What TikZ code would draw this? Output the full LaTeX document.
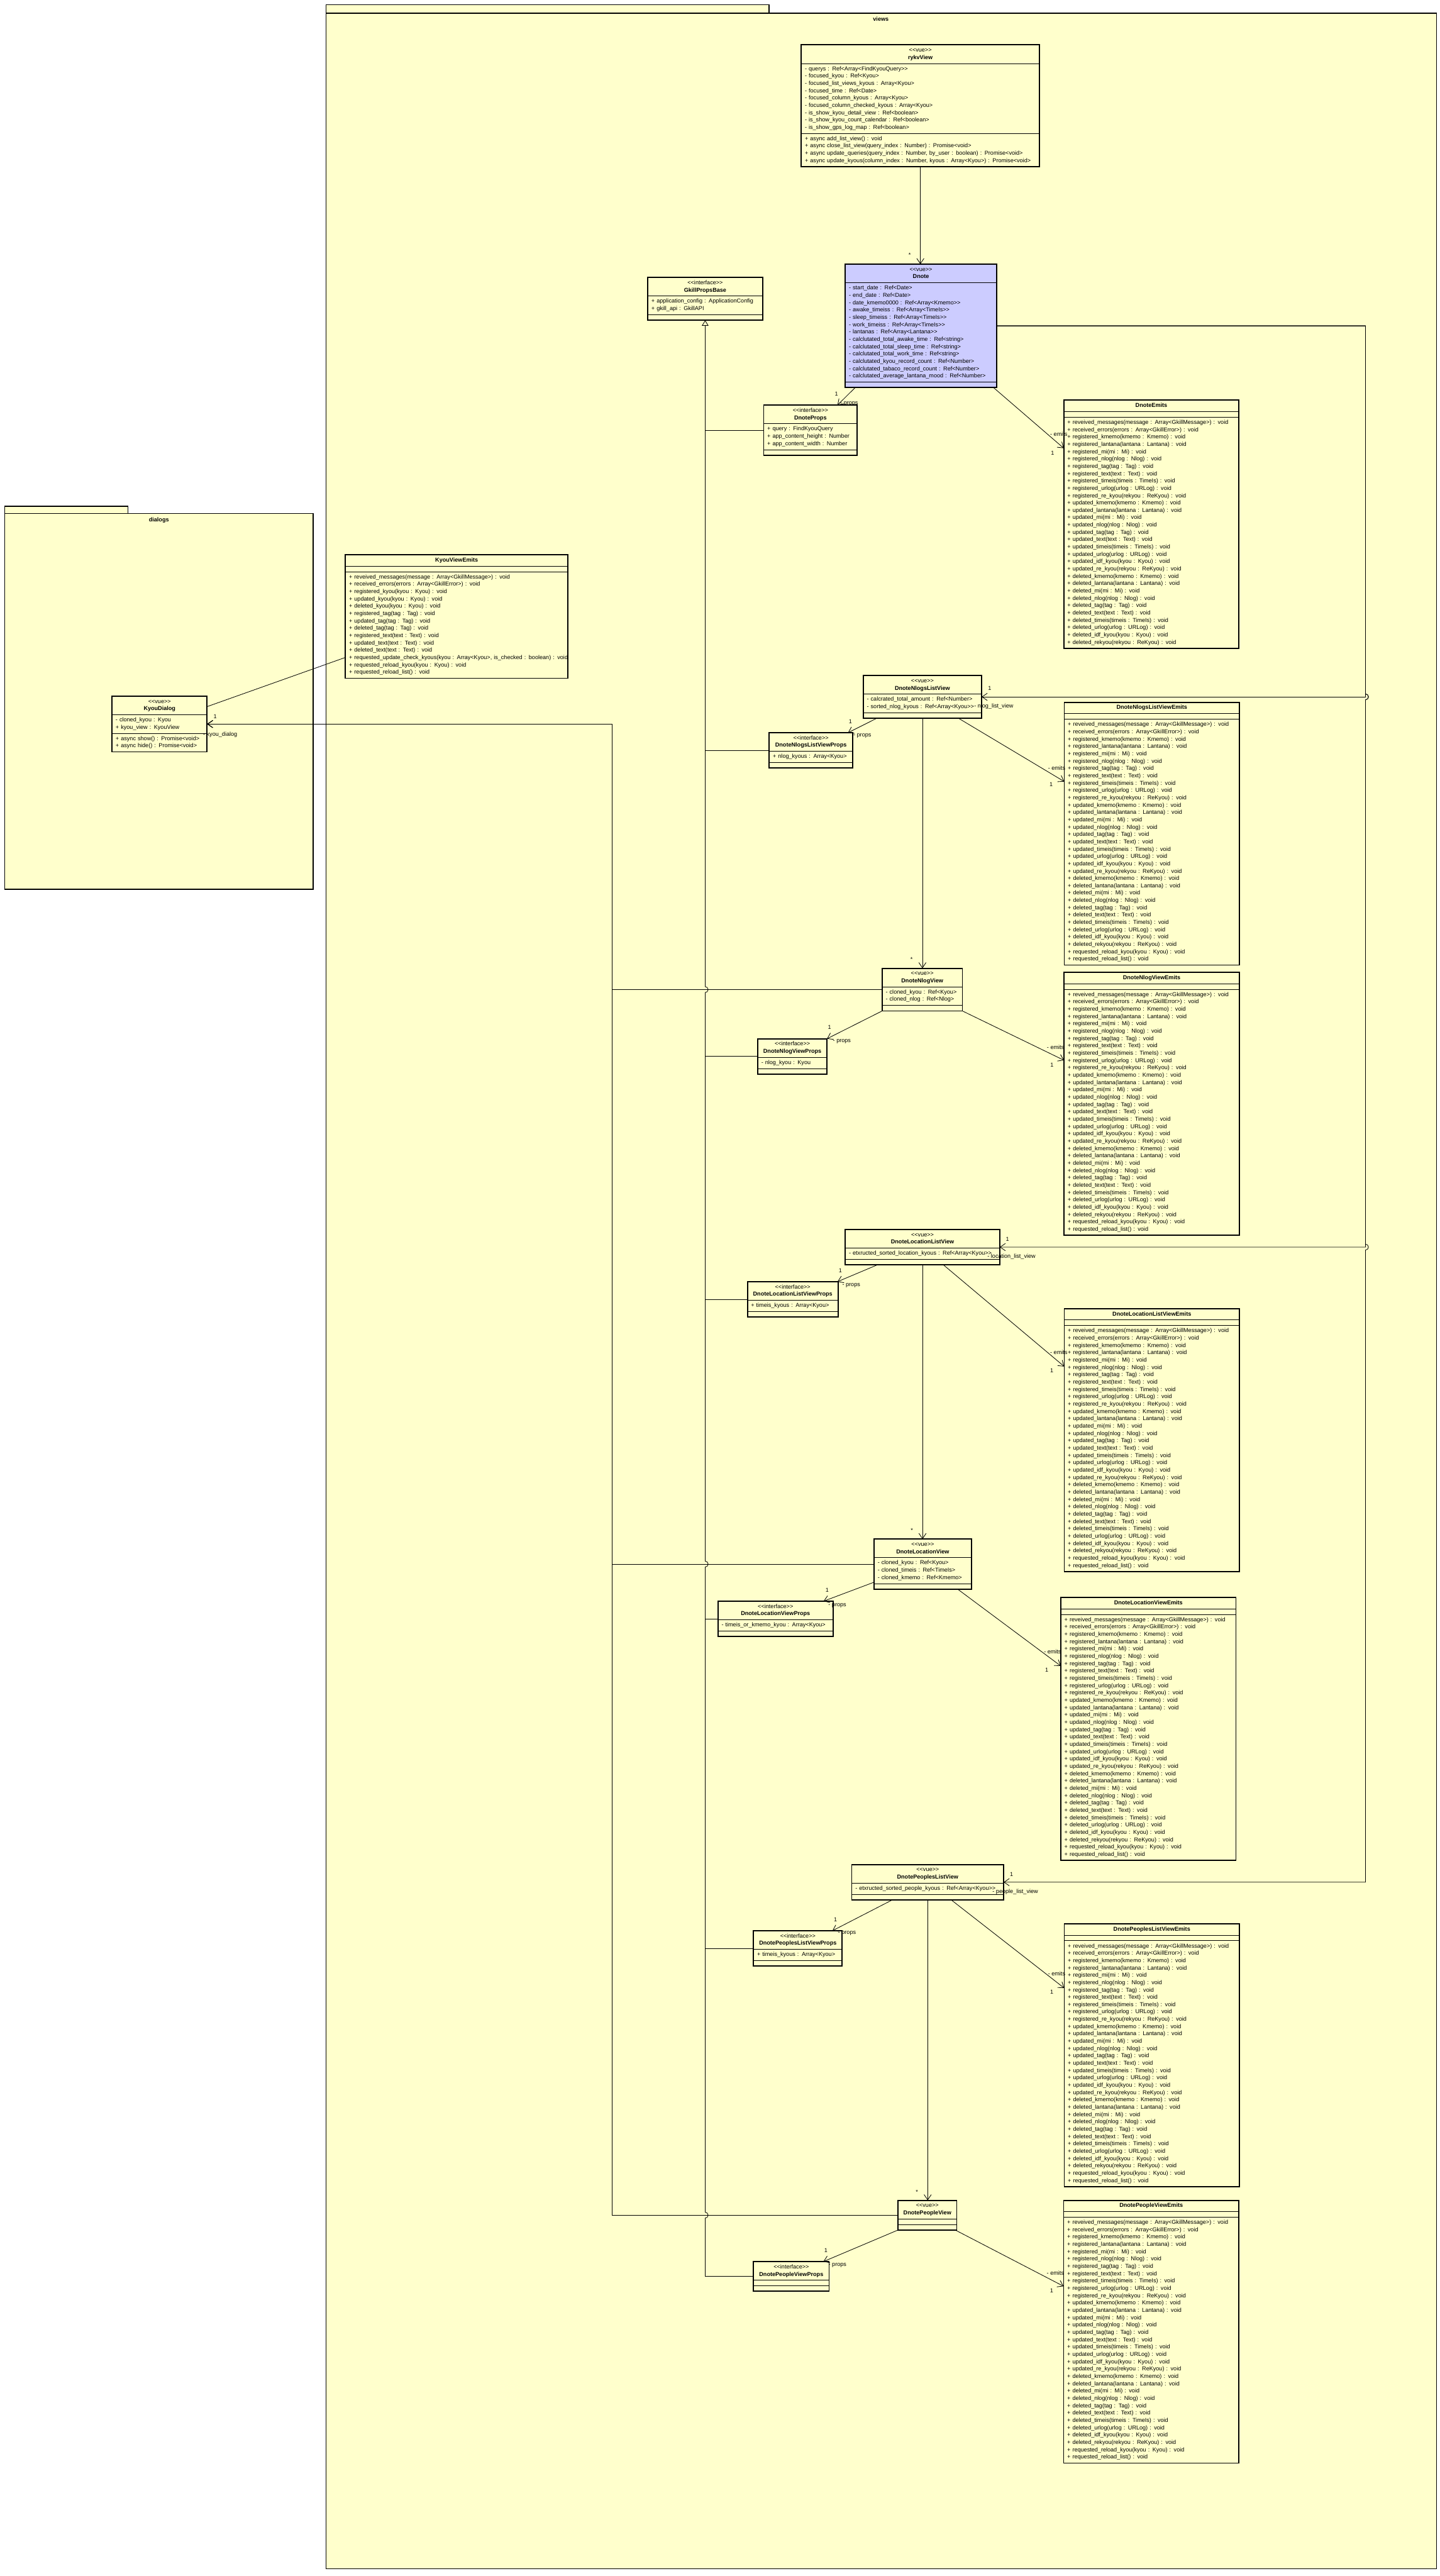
\documentclass[tikz,border=0pt]{standalone}
\usepackage{fontspec}
\setmainfont{Liberation Sans}[Ligatures=TeXOff]
\usepackage{tikz}
\usetikzlibrary{arrows.meta, positioning, calc, shapes.multipart}

\definecolor{umlyellow}{RGB}{255,255,204}
\definecolor{umlblue}{RGB}{204,204,255}

\newcommand{\umlfont}{\fontsize{9.9}{12.7}\selectfont}
\newcommand{\rows}[1]{\begin{tabular}{@{}l@{}}#1\end{tabular}}
\newcommand{\headrows}[1]{\makebox[\linewidth][c]{\begin{tabular}{@{}c@{}}#1\end{tabular}}}
\newcommand{\emptypart}{\rule{0pt}{3pt}}

% emit list shared by the Dnote views
\newcommand{\emitsbase}{%
+ reveived\_messages(message : Array<GkillMessage>) : void\\
+ received\_errors(errors : Array<GkillError>) : void\\
+ registered\_kmemo(kmemo : Kmemo) : void\\
+ registered\_lantana(lantana : Lantana) : void\\
+ registered\_mi(mi : Mi) : void\\
+ registered\_nlog(nlog : Nlog) : void\\
+ registered\_tag(tag : Tag) : void\\
+ registered\_text(text : Text) : void\\
+ registered\_timeis(timeis : TimeIs) : void\\
+ registered\_urlog(urlog : URLog) : void\\
+ registered\_re\_kyou(rekyou : ReKyou) : void\\
+ updated\_kmemo(kmemo : Kmemo) : void\\
+ updated\_lantana(lantana : Lantana) : void\\
+ updated\_mi(mi : Mi) : void\\
+ updated\_nlog(nlog : Nlog) : void\\
+ updated\_tag(tag : Tag) : void\\
+ updated\_text(text : Text) : void\\
+ updated\_timeis(timeis : TimeIs) : void\\
+ updated\_urlog(urlog : URLog) : void\\
+ updated\_idf\_kyou(kyou : Kyou) : void\\
+ updated\_re\_kyou(rekyou : ReKyou) : void\\
+ deleted\_kmemo(kmemo : Kmemo) : void\\
+ deleted\_lantana(lantana : Lantana) : void\\
+ deleted\_mi(mi : Mi) : void\\
+ deleted\_nlog(nlog : Nlog) : void\\
+ deleted\_tag(tag : Tag) : void\\
+ deleted\_text(text : Text) : void\\
+ deleted\_timeis(timeis : TimeIs) : void\\
+ deleted\_urlog(urlog : URLog) : void\\
+ deleted\_idf\_kyou(kyou : Kyou) : void\\
+ deleted\_rekyou(rekyou : ReKyou) : void}
\newcommand{\emitsreq}{\\
+ requested\_reload\_kyou(kyou : Kyou) : void\\
+ requested\_reload\_list() : void}

\begin{document}
\begin{tikzpicture}[
		x=1mm, y=-1mm,
		umlclass/.style={rectangle split, rectangle split parts=3, draw=black, line width=0.7pt,
			fill=umlyellow, anchor=north west, inner xsep=2.2mm, inner ysep=3pt, outer sep=0pt,
			align=left, font=\umlfont},
		boxw/.style={text width=#1mm},
		classborder/.style={draw=black, line width=2pt},
		pkg/.style={draw=black, line width=1.4pt, fill=umlyellow},
		pkglabel/.style={font=\umlfont\bfseries, inner sep=0pt},
		assoc/.style={draw=black, line width=0.9pt, -{Straight Barb[length=3.2mm, width=4.4mm]}},
		link/.style={draw=black, line width=0.9pt},
		inherit/.style={draw=black, line width=0.9pt, {Triangle[open, length=3.4mm, width=4mm]}-},
		role/.style={font=\umlfont, inner sep=0pt}
		]
		\fill[white] (0,0) rectangle (876,1567.3);
		\useasboundingbox (0,0) rectangle (876,1567.3);

		% --- Packages ---
		\draw[pkg] (198.5,3) rectangle (468,8);
		\draw[pkg] (198.5,8) rectangle (874,1563);
		\node[pkglabel] (viewslabel) at (536,11.6) {views};
		\draw[pkg] (3,308) rectangle (78,312.4);
		\draw[pkg] (3,312.4) rectangle (190.5,541);
		\node[pkglabel] (dialogslabel) at (96.7,316.6) {dialogs};

		% --- Top: rykvView, Dnote and its props/emits ---
		\node[umlclass, boxw=140.5] (rykvview) at (487.6,27.3)
		{\headrows{<<vue>>\\\textbf{rykvView}}
			\nodepart{two}\rows{- querys : Ref<Array<FindKyouQuery>>\\
				- focused\_kyou : Ref<Kyou>\\
				- focused\_list\_views\_kyous : Array<Kyou>\\
				- focused\_time : Ref<Date>\\
				- focused\_column\_kyous : Array<Kyou>\\
				- focused\_column\_checked\_kyous : Array<Kyou>\\
				- is\_show\_kyou\_detail\_view : Ref<boolean>\\
				- is\_show\_kyou\_count\_calendar : Ref<boolean>\\
				- is\_show\_gps\_log\_map : Ref<boolean>}
			\nodepart{three}\rows{+ async add\_list\_view() : void\\
				+ async close\_list\_view(query\_index : Number) : Promise<void>\\
				+ async update\_queries(query\_index : Number, by\_user : boolean) : Promise<void>\\
				+ async update\_kyous(column\_index : Number, kyous : Array<Kyou>) : Promise<void>}};

		\node[umlclass, fill=umlblue, boxw=87.6] (dnote) at (514.4,160.7)
		{\headrows{<<vue>>\\\textbf{Dnote}}
			\nodepart{two}\rows{- start\_date : Ref<Date>\\
				- end\_date : Ref<Date>\\
				- date\_kmemo0000 : Ref<Array<Kmemo>>\\
				- awake\_timeiss : Ref<Array<TimeIs>>\\
				- sleep\_timeiss : Ref<Array<TimeIs>>\\
				- work\_timeiss : Ref<Array<TimeIs>>\\
				- lantanas : Ref<Array<Lantana>>\\
				- calclutated\_total\_awake\_time : Ref<string>\\
				- calclutated\_total\_sleep\_time : Ref<string>\\
				- calclutated\_total\_work\_time : Ref<string>\\
				- calclutated\_kyou\_record\_count : Ref<Number>\\
				- calclutated\_tabaco\_record\_count : Ref<Number>\\
				- calclutated\_average\_lantana\_mood : Ref<Number>}
			\nodepart{three}\emptypart};

		\node[umlclass, boxw=65.4] (propsbase) at (394.2,168.8)
		{\headrows{<<interface>>\\\textbf{GkillPropsBase}}
			\nodepart{two}\rows{+ application\_config : ApplicationConfig\\
				+ gkill\_api : GkillAPI}
			\nodepart{three}\emptypart};

		\node[umlclass, boxw=52.5] (dnoteprops) at (464.7,246.5)
		{\headrows{<<interface>>\\\textbf{DnoteProps}}
			\nodepart{two}\rows{+ query : FindKyouQuery\\
				+ app\_content\_height : Number\\
				+ app\_content\_width : Number}
			\nodepart{three}\emptypart};

		\node[umlclass, boxw=102.2] (dnoteemits) at (647.3,243.5)
		{\headrows{\textbf{DnoteEmits}}
			\nodepart{two}\emptypart
			\nodepart{three}\rows{\emitsbase}};

		% --- dialogs ---
		\node[umlclass, boxw=131] (kyouviewemits) at (210.2,337.6)
		{\headrows{\textbf{KyouViewEmits}}
			\nodepart{two}\emptypart
			\nodepart{three}\rows{+ reveived\_messages(message : Array<GkillMessage>) : void\\
				+ received\_errors(errors : Array<GkillError>) : void\\
				+ registered\_kyou(kyou : Kyou) : void\\
				+ updated\_kyou(kyou : Kyou) : void\\
				+ deleted\_kyou(kyou : Kyou) : void\\
				+ registered\_tag(tag : Tag) : void\\
				+ updated\_tag(tag : Tag) : void\\
				+ deleted\_tag(tag : Tag) : void\\
				+ registered\_text(text : Text) : void\\
				+ updated\_text(text : Text) : void\\
				+ deleted\_text(text : Text) : void\\
				+ requested\_update\_check\_kyous(kyou : Array<Kyou>, is\_checked : boolean) : void\\
				+ requested\_reload\_kyou(kyou : Kyou) : void\\
				+ requested\_reload\_list() : void}};

		\node[umlclass, boxw=53.4] (kyoudialog) at (68.2,423.6)
		{\headrows{<<vue>>\\\textbf{KyouDialog}}
			\nodepart{two}\rows{- cloned\_kyou : Kyou\\
				+ kyou\_view : KyouView}
			\nodepart{three}\rows{+ async show() : Promise<void>\\
				+ async hide() : Promise<void>}};

		% --- Nlogs ---
		\node[umlclass, boxw=67.6] (nlogslist) at (525.3,411)
		{\headrows{<<vue>>\\\textbf{DnoteNlogsListView}}
			\nodepart{two}\rows{- calcrated\_total\_amount : Ref<Number>\\
				- sorted\_nlog\_kyous : Ref<Array<Kyou>>}
			\nodepart{three}\emptypart};
		\node[umlclass, boxw=46.3] (nlogslistprops) at (468.1,445.8)
		{\headrows{<<interface>>\\\textbf{DnoteNlogsListViewProps}}
			\nodepart{two}\rows{+ nlog\_kyous : Array<Kyou>}
			\nodepart{three}\emptypart};
		\node[umlclass, boxw=102.2] (nlogslistemits) at (647.6,427.3)
		{\headrows{\textbf{DnoteNlogsListViewEmits}}
			\nodepart{two}\emptypart
			\nodepart{three}\rows{\emitsbase\emitsreq}};

		\node[umlclass, boxw=44.4] (nlogview) at (536.8,589.1)
		{\headrows{<<vue>>\\\textbf{DnoteNlogView}}
			\nodepart{two}\rows{- cloned\_kyou : Ref<Kyou>\\
				- cloned\_nlog : Ref<Nlog>}
			\nodepart{three}\emptypart};
		\node[umlclass, boxw=37.7] (nlogviewprops) at (461.1,632)
		{\headrows{<<interface>>\\\textbf{DnoteNlogViewProps}}
			\nodepart{two}\rows{- nlog\_kyou : Kyou}
			\nodepart{three}\emptypart};
		\node[umlclass, boxw=102.2] (nlogviewemits) at (647.5,591.6)
		{\headrows{\textbf{DnoteNlogViewEmits}}
			\nodepart{two}\emptypart
			\nodepart{three}\rows{\emitsbase\emitsreq}};

		% --- Location ---
		\node[umlclass, boxw=89.5] (loclist) at (514.4,748)
		{\headrows{<<vue>>\\\textbf{DnoteLocationListView}}
			\nodepart{two}\rows{- etxructed\_sorted\_location\_kyous : Ref<Array<Kyou>>}
			\nodepart{three}\emptypart};
		\node[umlclass, boxw=50.8] (loclistprops) at (454.8,779.8)
		{\headrows{<<interface>>\\\textbf{DnoteLocationListViewProps}}
			\nodepart{two}\rows{+ timeis\_kyous : Array<Kyou>}
			\nodepart{three}\emptypart};
		\node[umlclass, boxw=102.2] (loclistemits) at (647.6,796.2)
		{\headrows{\textbf{DnoteLocationListViewEmits}}
			\nodepart{two}\emptypart
			\nodepart{three}\rows{\emitsbase\emitsreq}};

		\node[umlclass, boxw=54.8] (locview) at (531.9,936.4)
		{\headrows{<<vue>>\\\textbf{DnoteLocationView}}
			\nodepart{two}\rows{- cloned\_kyou : Ref<Kyou>\\
				- cloned\_timeis : Ref<TimeIs>\\
				- cloned\_kmemo : Ref<Kmemo>}
			\nodepart{three}\emptypart};
		\node[umlclass, boxw=65.6] (locviewprops) at (436.9,974.2)
		{\headrows{<<interface>>\\\textbf{DnoteLocationViewProps}}
			\nodepart{two}\rows{- timeis\_or\_kmemo\_kyou : Array<Kyou>}
			\nodepart{three}\emptypart};
		\node[umlclass, boxw=102.2] (locviewemits) at (645.5,972)
		{\headrows{\textbf{DnoteLocationViewEmits}}
			\nodepart{two}\emptypart
			\nodepart{three}\rows{\emitsbase\emitsreq}};

		% --- Peoples ---
		\node[umlclass, boxw=88] (peopleslist) at (518.3,1134.4)
		{\headrows{<<vue>>\\\textbf{DnotePeoplesListView}}
			\nodepart{two}\rows{- etxructed\_sorted\_people\_kyous : Ref<Array<Kyou>>}
			\nodepart{three}\emptypart};
		\node[umlclass, boxw=49.6] (peopleslistprops) at (458.5,1174.7)
		{\headrows{<<interface>>\\\textbf{DnotePeoplesListViewProps}}
			\nodepart{two}\rows{+ timeis\_kyous : Array<Kyou>}
			\nodepart{three}\emptypart};
		\node[umlclass, boxw=102.2] (peopleslistemits) at (647.6,1170.5)
		{\headrows{\textbf{DnotePeoplesListViewEmits}}
			\nodepart{two}\emptypart
			\nodepart{three}\rows{\emitsbase\emitsreq}};

		\node[umlclass, boxw=31.4] (peopleview) at (546.4,1338.7)
		{\headrows{<<vue>>\\\textbf{DnotePeopleView}}
			\nodepart{two}\emptypart
			\nodepart{three}\emptypart};
		\node[umlclass, boxw=41.6] (peopleviewprops) at (458.5,1376)
		{\headrows{<<interface>>\\\textbf{DnotePeopleViewProps}}
			\nodepart{two}\emptypart
			\nodepart{three}\emptypart};
		\node[umlclass, boxw=102.2] (peopleviewemits) at (647.2,1338.7)
		{\headrows{\textbf{DnotePeopleViewEmits}}
			\nodepart{two}\emptypart
			\nodepart{three}\rows{\emitsbase\emitsreq}};

		% thick outer frames
		\foreach \c in {rykvview, dnote, propsbase, dnoteprops, dnoteemits, kyouviewemits, kyoudialog,
			nlogslist, nlogslistprops, nlogslistemits, nlogview, nlogviewprops, nlogviewemits,
			loclist, loclistprops, loclistemits, locview, locviewprops, locviewemits,
			peopleslist, peopleslistprops, peopleslistemits, peopleview, peopleviewprops, peopleviewemits}
		\draw[classborder] (\c.north west) rectangle (\c.south east);

		% --- Connectors ---
		\coordinate (rbus) at (830.9,198.3);
		\coordinate (lbus) at (372.5,441);

		\draw[assoc] (rykvview.south) -- (rykvview.south |- dnote.north);
		\draw[assoc] ([xshift=6mm]dnote.south west) -- ([xshift=-12mm]dnoteprops.north east);
		\draw[assoc] ([xshift=-1.9mm]dnote.south east) -- ([yshift=-29.2mm]dnoteemits.north west);

		% Dnote -> list views (right bus)
		\draw[assoc] (dnote.east) -- (dnote.east -| rbus) |- (nlogslist.east);
		\draw[assoc] (dnote.east) -- (dnote.east -| rbus)
			-- ([yshift=1.8mm]rbus |- nlogslist.east) arc[start angle=90, end angle=-90, radius=1.8mm]
			|- (loclist.east);
		\draw[assoc] (dnote.east) -- (dnote.east -| rbus)
			-- ([yshift=1.8mm]rbus |- nlogslist.east) arc[start angle=90, end angle=-90, radius=1.8mm]
			-- ([yshift=1.8mm]rbus |- loclist.east) arc[start angle=90, end angle=-90, radius=1.8mm]
			|- (peopleslist.east);

		% views -> KyouDialog (left bus)
		\draw[assoc] (nlogview.west) -| (lbus |- kyoudialog.east) -- (kyoudialog.east);
		\draw[assoc] (locview.west) -| (lbus |- kyoudialog.east) -- (kyoudialog.east);
		\draw[assoc] (peopleview.west) -| (lbus |- kyoudialog.east) -- (kyoudialog.east);
		\draw[link] ([yshift=10.6mm]kyoudialog.east) -- ([yshift=-24.85mm]kyouviewemits.west);

		% generalization trunk
		\draw[inherit] (propsbase.south)
			-- ([yshift=1.8mm]propsbase.south |- nlogview.west) arc[start angle=90, end angle=-90, radius=1.8mm]
			-- ([yshift=1.8mm]propsbase.south |- locview.west) arc[start angle=90, end angle=-90, radius=1.8mm]
			-- ([yshift=1.8mm]propsbase.south |- peopleview.west) arc[start angle=90, end angle=-90, radius=1.8mm]
			-- (propsbase.south |- peopleviewprops.west);
		\foreach \p in {dnoteprops, nlogslistprops, nlogviewprops, loclistprops, locviewprops, peopleslistprops, peopleviewprops}
		\draw[link] (\p.west) -- (propsbase.south |- \p.west);

		% list view -> view
		\draw[assoc] (nlogslist.south) -- (nlogslist.south |- nlogview.north);
		\draw[assoc] (loclist.south) -- (loclist.south |- locview.north);
		\draw[assoc] (peopleslist.south) -- (peopleslist.south |- peopleview.north);

		% props
		\draw[assoc] ([xshift=8.3mm]nlogslist.south west) -- ([xshift=-2.8mm]nlogslistprops.north east);
		\draw[assoc] (nlogview.south west) -- (nlogviewprops.north east);
		\draw[assoc] ([xshift=19.6mm]loclist.south west) -- ([xshift=-0.4mm]loclistprops.north east);
		\draw[assoc] ([yshift=-11mm]locview.west) -- ([xshift=-5.8mm]locviewprops.north east);
		\draw[assoc] ([xshift=24.7mm]peopleslist.south west) -- ([xshift=-6mm]peopleslistprops.north east);
		\draw[assoc] (peopleview.south west) -- ([xshift=-3.5mm]peopleviewprops.north east);

		% emits
		\draw[assoc] ([xshift=-14.1mm]nlogslist.south east) -- ([yshift=-48.2mm]nlogslistemits.north west);
		\draw[assoc] (nlogview.south east) -- ([yshift=-53.5mm]nlogviewemits.north west);
		\draw[assoc] ([xshift=-34.3mm]loclist.south east) -- ([yshift=-35.2mm]loclistemits.north west);
		\draw[assoc] ([xshift=-8.4mm]locview.south east) -- ([yshift=-41.6mm]locviewemits.north west);
		\draw[assoc] ([xshift=-31.9mm]peopleslist.south east) -- ([yshift=-39.1mm]peopleslistemits.north west);
		\draw[assoc] ([xshift=-0.9mm]peopleview.south east) -- ([yshift=-52.3mm]peopleviewemits.north west);

		% --- role names and multiplicities ---
		\node[role] (m-rykv) at (553.5,155) {*};
		\node[role] (m-dnoteprops) at (509,239.7) {1};
		\node[role] (r-dnoteprops) at (516.7,245.5) {- props};
		\node[role] (r-dnoteemits) at (644.3,264.3) {- emits};
		\node[role] (m-dnoteemits) at (640.5,275.5) {1};
		\node[role] (m-kyoudialog) at (130.9,435.9) {1};
		\node[role] (r-kyoudialog) at (134,447) {- kyou\_dialog};

		\node[role] (m-nlogslist) at (602.2,418.9) {1};
		\node[role] (r-nlogslist) at (604.7,429.7) {- nlog\_list\_view};
		\node[role] (m-nlogslistprops) at (517.5,439.2) {1};
		\node[role] (r-nlogslistprops) at (524.7,447.7) {- props};
		\node[role] (r-nlogslistemits) at (643,467.2) {- emits};
		\node[role] (m-nlogslistemits) at (639.6,477.4) {1};
		\node[role] (m-nlogview) at (554.7,583.7) {*};
		\node[role] (m-nlogviewprops) at (504.8,625.1) {1};
		\node[role] (r-nlogviewprops) at (512.3,633.8) {- props};
		\node[role] (r-nlogviewemits) at (642.3,637.2) {- emits};
		\node[role] (m-nlogviewemits) at (640.1,647.8) {1};

		\node[role] (m-loclist) at (613,753.8) {1};
		\node[role] (r-loclist) at (615.5,764.7) {- location\_list\_view};
		\node[role] (m-loclistprops) at (511.4,773.2) {1};
		\node[role] (r-loclistprops) at (518,782.2) {- props};
		\node[role] (r-loclistemits) at (644.3,822.6) {- emits};
		\node[role] (m-loclistemits) at (640,834) {1};
		\node[role] (m-locview) at (554.9,931) {*};
		\node[role] (m-locviewprops) at (503.3,967.6) {1};
		\node[role] (r-locviewprops) at (509.5,976.9) {- props};
		\node[role] (r-locviewemits) at (640.5,1005) {- emits};
		\node[role] (m-locviewemits) at (637,1016) {1};

		\node[role] (m-peopleslist) at (615.5,1140.4) {1};
		\node[role] (r-peopleslist) at (617.8,1151.1) {- people\_list\_view};
		\node[role] (m-peopleslistprops) at (508.4,1167.8) {1};
		\node[role] (r-peopleslistprops) at (515.4,1176.2) {- props};
		\node[role] (r-peopleslistemits) at (643,1201) {- emits};
		\node[role] (m-peopleslistemits) at (640,1212) {1};
		\node[role] (m-peopleview) at (557.9,1333.5) {*};
		\node[role] (m-peopleviewprops) at (502.6,1369.4) {1};
		\node[role] (r-peopleviewprops) at (509.6,1378.2) {- props};
		\node[role] (r-peopleviewemits) at (642.2,1383.1) {- emits};
		\node[role] (m-peopleviewemits) at (639.9,1393.7) {1};
\end{tikzpicture}
\end{document}
